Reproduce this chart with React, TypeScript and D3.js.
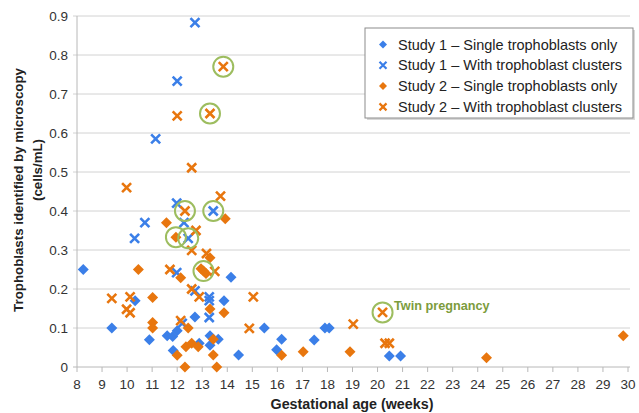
import React from "react";
import * as d3 from "d3";

const study1SingleX = [8.25, 9.39, 10.32, 10.89, 11.6, 11.82, 12.0, 11.84, 12.71, 12.88, 13.31, 13.64, 13.31, 13.87, 14.15, 14.45, 15.48, 16.17, 15.97, 17.47, 17.9, 18.07, 20.47, 20.92];
const study1SingleY = [0.25, 0.1, 0.17, 0.07, 0.08, 0.078, 0.093, 0.042, 0.128, 0.061, 0.08, 0.071, 0.056, 0.17, 0.23, 0.031, 0.1, 0.071, 0.044, 0.069, 0.1, 0.1, 0.028, 0.028];

const study1ClusterX = [12.71, 12.0, 11.14, 11.98, 13.44, 10.71, 12.27, 10.3, 12.44, 11.98, 12.71, 13.28, 13.28, 13.28, 12.2];
const study1ClusterY = [0.883, 0.733, 0.585, 0.42, 0.4, 0.37, 0.37, 0.33, 0.33, 0.242, 0.195, 0.18, 0.17, 0.127, 0.112];

const study2SingleX = [10.45, 11.02, 11.02, 11.02, 11.57, 11.95, 12.14, 12.44, 12.35, 12.58, 12.84, 12.0, 12.31, 13.31, 12.95, 13.05, 13.15, 13.92, 13.31, 13.87, 13.44, 13.44, 13.58, 16.17, 17.03, 18.9, 24.35, 29.81];
const study2SingleY = [0.25, 0.178, 0.114, 0.1, 0.37, 0.333, 0.229, 0.1, 0.052, 0.061, 0.052, 0.03, 0.0, 0.28, 0.252, 0.246, 0.24, 0.38, 0.149, 0.139, 0.071, 0.031, 0.0, 0.03, 0.039, 0.039, 0.024, 0.08];

const study2ClusterX = [13.84, 13.31, 12.0, 12.58, 9.98, 13.73, 12.31, 12.75, 12.58, 13.17, 11.71, 13.5, 12.58, 12.88, 9.39, 10.12, 9.98, 10.12, 12.14, 15.04, 14.88, 19.03, 20.2, 20.3, 20.47];
const study2ClusterY = [0.77, 0.65, 0.644, 0.511, 0.46, 0.438, 0.4, 0.35, 0.299, 0.291, 0.25, 0.245, 0.2, 0.18, 0.176, 0.18, 0.148, 0.139, 0.119, 0.18, 0.099, 0.11, 0.14, 0.061, 0.061];

const circledX = [13.84, 13.31, 12.31, 13.44, 11.95, 12.44, 13.05, 20.2];
const circledY = [0.77, 0.65, 0.4, 0.4, 0.333, 0.33, 0.246, 0.14];

const xTicks = d3.range(8, 31);
const yTicks = [0, 0.1, 0.2, 0.3, 0.4, 0.5, 0.6, 0.7, 0.8, 0.9];

const legendLabels = [
  "Study 1 \u2013 Single trophoblasts only",
  "Study 1 \u2013 With trophoblast clusters",
  "Study 2 \u2013 Single trophoblasts only",
  "Study 2 \u2013 With trophoblast clusters",
];

const BLUE = "#3b7fe8";
const ORANGE = "#e8760e";
const GREEN = "#9dbd5f";
const FONT = "'Liberation Sans', Arial, sans-serif";

const Diamond = ({ cx, cy, r, color }: { cx: number; cy: number; r: number; color: string }) => (
  <path d={`M${cx},${cy - r}L${cx + r},${cy}L${cx},${cy + r}L${cx - r},${cy}Z`} fill={color} />
);

const Cross = ({ cx, cy, r, color, w }: { cx: number; cy: number; r: number; color: string; w: number }) => (
  <path d={`M${cx - r},${cy - r}L${cx + r},${cy + r}M${cx - r},${cy + r}L${cx + r},${cy - r}`} stroke={color} strokeWidth={w} fill="none" />
);

export default function App() {
  const x = d3.scaleLinear().domain([8, 30]).range([77, 628]);
  const y = d3.scaleLinear().domain([0, 0.9]).range([367, 16]);

  const legendRows = [
    { kind: "d", color: BLUE },
    { kind: "x", color: BLUE },
    { kind: "d", color: ORANGE },
    { kind: "x", color: ORANGE },
  ];

  return (
    <svg width={639} height={413} style={{ position: "absolute", left: 0, top: 0, background: "#fff" }} fontFamily={FONT}>
      {yTicks.filter((t) => t > 0).map((t) => (
        <line key={t} x1={73} x2={630} y1={y(t)} y2={y(t)} stroke="#d2d2d2" strokeWidth={1} />
      ))}
      <line x1={x(8)} x2={x(8)} y1={y(0.9)} y2={y(0)} stroke="#b8b8b8" />
      <line x1={73} x2={x(8)} y1={y(0)} y2={y(0)} stroke="#b8b8b8" />
      <line x1={x(8)} x2={630} y1={y(0)} y2={y(0)} stroke="#b8b8b8" />
      {xTicks.map((t) => (
        <line key={t} x1={x(t)} x2={x(t)} y1={y(0)} y2={y(0) + 5} stroke="#b8b8b8" />
      ))}
      {yTicks.map((t) => (
        <text key={t} x={68} y={y(t) + 5} textAnchor="end" fontSize={13.5} fill="#333">
          {t === 0 ? "0" : t.toFixed(1)}
        </text>
      ))}
      {xTicks.map((t) => (
        <text key={t} x={x(t)} y={389} textAnchor="middle" fontSize={13.5} fill="#333">
          {t}
        </text>
      ))}
      <text x={352} y={409} textAnchor="middle" fontSize={14.3} fontWeight="bold" fill="#222">
        Gestational age (weeks)
      </text>
      <text transform="translate(23,190) rotate(-90)" textAnchor="middle" fontSize={13.3} fontWeight="bold" fill="#222">
        Trophoblasts identified by microscopy
      </text>
      <text transform="translate(42,170) rotate(-90)" textAnchor="middle" fontSize={13.3} fontWeight="bold" fill="#222">
        (cells/mL)
      </text>

      {study1SingleX.map((v, i) => (
        <Diamond key={"a" + i} cx={x(v)} cy={y(study1SingleY[i])} r={5.5} color={BLUE} />
      ))}
      {study1ClusterX.map((v, i) => (
        <Cross key={"b" + i} cx={x(v)} cy={y(study1ClusterY[i])} r={4.5} w={2.6} color={BLUE} />
      ))}
      {study2SingleX.map((v, i) => (
        <Diamond key={"c" + i} cx={x(v)} cy={y(study2SingleY[i])} r={5.5} color={ORANGE} />
      ))}
      {study2ClusterX.map((v, i) => (
        <Cross key={"d" + i} cx={x(v)} cy={y(study2ClusterY[i])} r={4.5} w={2.6} color={ORANGE} />
      ))}
      {circledX.map((v, i) => (
        <circle key={"e" + i} cx={x(v)} cy={y(circledY[i])} r={10} fill="none" stroke={GREEN} strokeWidth={2} />
      ))}
      <text x={394} y={310} fontSize={12.7} fontWeight="bold" fill="#7c9c3c">
        Twin pregnancy
      </text>

      <rect x={367} y={30} width={268} height={90} fill="#d8d8d8" />
      <rect x={365} y={28} width={268} height={90} fill="#fff" stroke="#8c8c8c" strokeWidth={1} />
      {legendRows.map((r, i) => {
        const cy = 44.5 + i * 20.8;
        return (
          <g key={"l" + i}>
            {r.kind === "d" ? (
              <Diamond cx={383} cy={cy} r={4} color={r.color} />
            ) : (
              <Cross cx={383} cy={cy} r={3.5} w={2.2} color={r.color} />
            )}
            <text x={398} y={cy + 5} fontSize={14.5} fill="#222">
              {legendLabels[i]}
            </text>
          </g>
        );
      })}
    </svg>
  );
}
